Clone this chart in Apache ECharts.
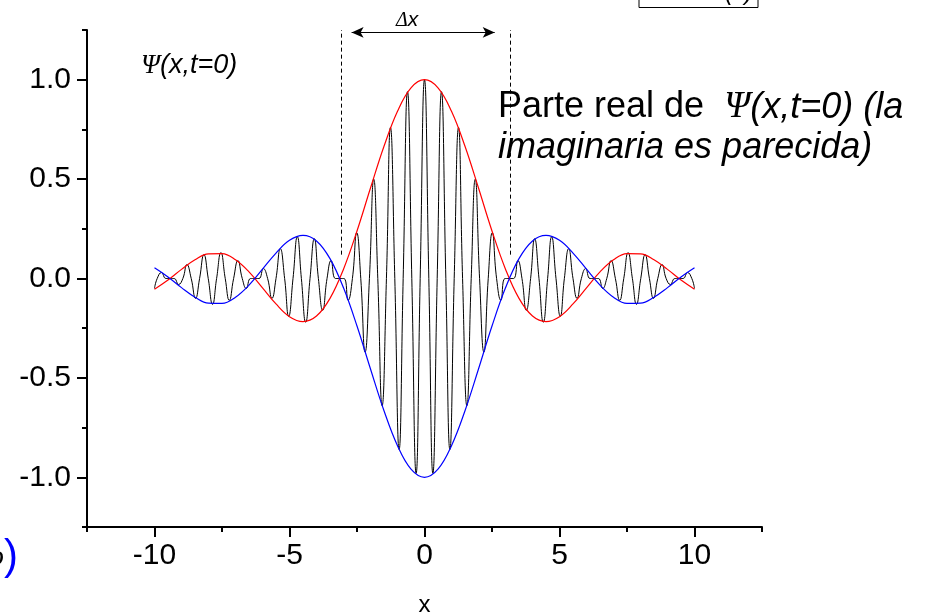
<!DOCTYPE html>
<html>
<head>
<meta charset="utf-8">
<title>Paquete de ondas</title>
<script src="https://cdn.jsdelivr.net/npm/echarts@6.0.0/dist/echarts.min.js"></script>
<style>
  html, body { margin: 0; padding: 0; background: #fff; }
  #chart { width: 928px; height: 614px; }
</style>
</head>
<body>
<div id="chart"></div>
<script>
const waveX = [
  -10, -9.90, -9.74, -9.58, -9.42, -9.27, -9.11, -8.95, -8.80, -8.64, -8.48, -8.33, -8.17, -8.01,
  -7.85, -7.70, -7.54, -7.38, -7.23, -7.07, -6.91, -6.75, -6.60, -6.44, -6.28, -6.13, -5.97, -5.81,
  -5.65, -5.50, -5.34, -5.18, -5.03, -4.87, -4.71, -4.56, -4.40, -4.24, -4.08, -3.93, -3.77, -3.61,
  -3.46, -3.30, -3.14, -2.98, -2.83, -2.67, -2.51, -2.36, -2.20, -2.04, -1.88, -1.73, -1.57, -1.41,
  -1.26, -1.10, -0.94, -0.79, -0.63, -0.47, -0.31, -0.16,
  0,
  0.16, 0.31, 0.47, 0.63, 0.79, 0.94, 1.10, 1.26, 1.41, 1.57, 1.73, 1.88, 2.04, 2.20, 2.36, 2.51,
  2.67, 2.83, 2.98, 3.14, 3.30, 3.46, 3.61, 3.77, 3.93, 4.08, 4.24, 4.40, 4.56, 4.71, 4.87, 5.03,
  5.18, 5.34, 5.50, 5.65, 5.81, 5.97, 6.13, 6.28, 6.44, 6.60, 6.75, 6.91, 7.07, 7.23, 7.38, 7.54,
  7.70, 7.85, 8.01, 8.17, 8.33, 8.48, 8.64, 8.80, 8.95, 9.11, 9.27, 9.42, 9.58, 9.74, 9.90, 10
];
const waveY = [
  -0.05, 0, 0.03, 0, 0, 0, -0.03, 0, 0.07, 0, -0.10, 0, 0.12, 0,
  -0.13, 0, 0.13, 0, -0.11, 0, 0.09, 0, -0.05, 0, 0, 0, 0.05, 0,
  -0.10, 0, 0.15, 0, -0.19, 0, 0.21, 0, -0.22, 0, 0.20, 0, -0.16, 0,
  0.09, 0, 0, 0, -0.11, 0, 0.23, 0, -0.37, 0, 0.50, 0, -0.64, 0,
  0.76, 0, -0.86, 0, 0.94, 0, -0.98, 0,
  1.00,
  0, -0.98, 0, 0.94, 0, -0.86, 0, 0.76, 0, -0.64, 0, 0.50, 0, -0.37, 0, 0.23,
  0, -0.11, 0, 0, 0, 0.09, 0, -0.16, 0, 0.20, 0, -0.22, 0, 0.21, 0, -0.19,
  0, 0.15, 0, -0.10, 0, 0.05, 0, 0, 0, -0.05, 0, 0.09, 0, -0.11, 0, 0.13,
  0, -0.13, 0, 0.12, 0, -0.10, 0, 0.07, 0, -0.03, 0, 0, 0, 0.03, 0, -0.05
];

// envolventes (roja arriba en el centro, azul abajo)
const envX = [-10, -9.5, -9, -8.5, -8, -7.5, -7, -6.5, -6, -5.5, -5, -4.5, -4, -3.5, -3, -2.5, -2, -1.5, -1, -0.5,
  0, 0.5, 1, 1.5, 2, 2.5, 3, 3.5, 4, 4.5, 5, 5.5, 6, 6.5, 7, 7.5, 8, 8.5, 9, 9.5, 10];
const redEnv = [-0.054, -0.008, 0.046, 0.094, 0.124, 0.125, 0.094, 0.033, -0.047, -0.128, -0.192, -0.217, -0.189, -0.100, 0.047, 0.239, 0.455, 0.665, 0.841, 0.959,
  1.000, 0.959, 0.841, 0.665, 0.455, 0.239, 0.047, -0.100, -0.189, -0.217, -0.192, -0.128, -0.047, 0.033, 0.094, 0.125, 0.124, 0.094, 0.046, -0.008, -0.054];
const blueEnv = [0.054, 0.008, -0.046, -0.094, -0.124, -0.125, -0.094, -0.033, 0.047, 0.128, 0.192, 0.217, 0.189, 0.100, -0.047, -0.239, -0.455, -0.665, -0.841, -0.959,
  -1.000, -0.959, -0.841, -0.665, -0.455, -0.239, -0.047, 0.100, 0.189, 0.217, 0.192, 0.128, 0.047, -0.033, -0.094, -0.125, -0.124, -0.094, -0.046, 0.008, 0.054];

// ejes
const xMajor = [-10, -5, 0, 5, 10];
const xMinor = [-12.5, -7.5, -2.5, 2.5, 7.5, 12.5];
const yMajor = [-1, -0.5, 0, 0.5, 1];
const yMinor = [-1.25, -0.75, -0.25, 0.25, 0.75, 1.25];

// anchura del paquete (líneas discontinuas) y flecha
const deltaLeft = -3.07;
const deltaRight = 3.18;
const dashBottom = 0.12;
const arrowY = 1.238;
const arrowFrom = -2.7;
const arrowTo = 2.6;

const zip = (xs, ys) => xs.map((x, i) => [x, ys[i]]);

const font = 'Liberation Sans, Arial, sans-serif';
const serif = 'Liberation Serif, Times New Roman, serif';

const chart = echarts.init(document.getElementById('chart'));

const option = {
  animation: false,
  backgroundColor: '#fff',
  grid: { left: 87, top: 30, width: 675, height: 497, outerBoundsMode: 'none', containLabel: false },
  xAxis: [
    {
      type: 'value', min: -12.5, max: 12.5,
      axisLine: { onZero: false, lineStyle: { color: '#000', width: 2 } },
      axisTick: { customValues: xMajor, length: 10, lineStyle: { color: '#000', width: 2 } },
      axisLabel: { customValues: xMajor, color: '#000', fontSize: 30, fontFamily: font, margin: 14 },
      splitLine: { show: false },
      name: 'x', nameLocation: 'middle', nameGap: 66,
      nameTextStyle: { color: '#000', fontSize: 24, fontFamily: font }
    },
    {
      type: 'value', min: -12.5, max: 12.5, position: 'bottom',
      axisLine: { show: false, onZero: false },
      axisTick: { customValues: xMinor, length: 5, lineStyle: { color: '#000', width: 2 } },
      axisLabel: { show: false },
      splitLine: { show: false }
    }
  ],
  yAxis: [
    {
      type: 'value', min: -1.25, max: 1.25,
      axisLine: { show: true, onZero: false, lineStyle: { color: '#000', width: 2 } },
      axisTick: { show: true, customValues: yMajor, length: 10, lineStyle: { color: '#000', width: 2 } },
      axisLabel: {
        customValues: yMajor, color: '#000', fontSize: 30, fontFamily: font, margin: 16,
        formatter: v => v.toFixed(1)
      },
      splitLine: { show: false }
    },
    {
      type: 'value', min: -1.25, max: 1.25, position: 'left',
      axisLine: { show: false, onZero: false },
      axisTick: { show: true, customValues: yMinor, length: 5, lineStyle: { color: '#000', width: 2 } },
      axisLabel: { show: false },
      splitLine: { show: false }
    }
  ],
  series: [
    {
      name: 'Re Psi',
      type: 'line',
      data: zip(waveX, waveY),
      smooth: 0.5,
      showSymbol: false,
      lineStyle: { color: '#000', width: 1 },
      silent: true,
      markLine: {
        silent: true,
        symbol: ['none', 'none'],
        label: { show: false },
        lineStyle: { color: '#000', width: 1, type: [4, 3] },
        data: [
          [{ coord: [deltaLeft, dashBottom] }, { coord: [deltaLeft, 1.25] }],
          [{ coord: [deltaRight, dashBottom] }, { coord: [deltaRight, 1.25] }]
        ]
      }
    },
    {
      name: 'env roja',
      type: 'line',
      data: zip(envX, redEnv),
      smooth: 0.4,
      showSymbol: false,
      lineStyle: { color: '#ff0000', width: 1.2 },
      silent: true
    },
    {
      name: 'env azul',
      type: 'line',
      data: zip(envX, blueEnv),
      smooth: 0.4,
      showSymbol: false,
      lineStyle: { color: '#0000ff', width: 1.2 },
      silent: true,
      markLine: {
        silent: true,
        symbol: ['arrow', 'arrow'],
        symbolSize: [8, 12],
        label: { show: false },
        lineStyle: { color: '#000', width: 1, type: 'solid' },
        data: [
          [{ coord: [arrowFrom, arrowY] }, { coord: [arrowTo, arrowY] }]
        ]
      }
    }
  ],
  graphic: [
    {
      type: 'text', left: 141, top: 52,
      style: {
        text: '{p|Ψ}{t|(x,t=0)}',
        rich: {
          p: { fontFamily: serif, fontStyle: 'italic', fontSize: 27, fill: '#000' },
          t: { fontFamily: font, fontStyle: 'italic', fontSize: 27, fill: '#000' }
        }
      }
    },
    {
      type: 'text', left: 498, top: 89,
      style: {
        text: '{n|Parte real de  }{p|Ψ}{t|(x,t=0) (la}\n{t|imaginaria es parecida)}',
        rich: {
          n: { fontFamily: font, fontSize: 36, fill: '#000', lineHeight: 40 },
          p: { fontFamily: serif, fontStyle: 'italic', fontSize: 37, fill: '#000', lineHeight: 40 },
          t: { fontFamily: font, fontStyle: 'italic', fontSize: 36, fill: '#000', lineHeight: 40 }
        }
      }
    },
    {
      type: 'text', left: 396, top: 10,
      style: {
        text: '{d|Δ}{t|x}',
        rich: {
          d: { fontFamily: serif, fontStyle: 'italic', fontSize: 20, fill: '#000' },
          t: { fontFamily: font, fontStyle: 'italic', fontSize: 21, fill: '#000' }
        }
      }
    },
    {
      type: 'rect',
      shape: { x: 639, y: -30, width: 119, height: 37.5 },
      style: { fill: '#fff', stroke: '#000', lineWidth: 1 }
    },
    {
      type: 'text', x: 708, y: 5,
      style: {
        text: '{p|Ψ}{t|(x)}',
        verticalAlign: 'bottom',
        rich: {
          p: { fontFamily: serif, fontStyle: 'italic', fontSize: 24, fill: '#000' },
          t: { fontFamily: font, fontStyle: 'italic', fontSize: 24, fill: '#000' }
        }
      }
    },
    {
      type: 'text', x: 18, y: 557,
      style: {
        text: '{r|ρ}{b|)}',
        align: 'right',
        verticalAlign: 'middle',
        rich: {
          r: { fontFamily: serif, fontStyle: 'italic', fontSize: 30, fill: '#000' },
          b: { fontFamily: font, fontSize: 42, fill: '#0000ff' }
        }
      }
    }
  ]
};

chart.setOption(option);
</script>
</body>
</html>
